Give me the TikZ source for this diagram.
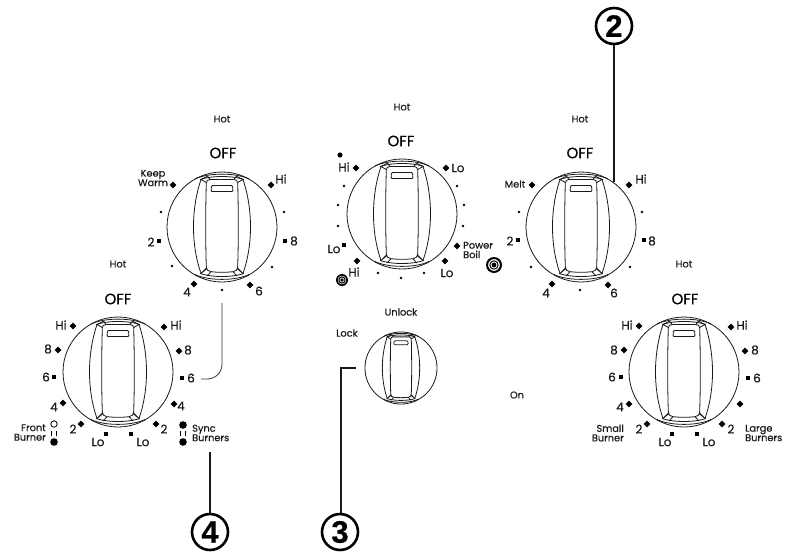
\documentclass[tikz,border=0pt]{standalone}
\usepackage{fontspec}
\setmainfont{Poppins}[RawFeature={embolden=0.35}]
\newfontfamily\numfont{Liberation Sans}[RawFeature={embolden=0.6}]
\newcounter{lb}
\tikzset{
  x=1pt,y=-1pt,
  knobline/.style={line width=0.8pt,black!90},
  lbl/.style={inner sep=0pt,font=\fontsize{12}{13}\selectfont,text=black!90},
  sm/.style={inner sep=0pt,font=\fontsize{9.8}{11}\selectfont,text=black!90,align=center},
  sml/.style={sm,align=left,anchor=west},
  smr/.style={sm,align=right,anchor=east},
  offlbl/.style={inner sep=0pt,font=\fontsize{15}{16}\selectfont,text=black},
  callout/.style={circle,draw=black,line width=2.6pt,minimum size=36pt,inner sep=0pt,font=\numfont\bfseries\fontsize{31}{32}\selectfont},
  lead/.style={line width=2.5pt,black!90},
  thinlead/.style={line width=0.8pt,black!80},
}
\newcommand{\Lb}[3]{\stepcounter{lb}\node[lbl] (lb\thelb) at (#1,#2) {#3};}
\newcommand{\Sm}[3]{\stepcounter{lb}\node[sm] (lb\thelb) at (#1,#2) {#3};}
\newcommand{\Off}[2]{\stepcounter{lb}\node[offlbl] (lb\thelb) at (#1,#2) {OFF};}
\newcommand{\dmd}[2]{\fill[black] (#1-3.3,#2) -- (#1,#2-3.3) -- (#1+3.3,#2) -- (#1,#2+3.3) -- cycle;}
\newcommand{\sqr}[2]{\fill[black] (#1-2.4,#2-2.4) rectangle (#1+2.4,#2+2.4);}
\newcommand{\dtt}[2]{\fill[black] (#1,#2) circle (1.3);}
\newcommand{\knob}[4]{%
 \node[circle,draw,knobline,minimum size=#4*110pt,inner sep=0pt] (#1) at (#2,#3) {};
 \begin{scope}[shift={(#2,#3)},scale=#4,knobline]
  % bands
  \draw (-27,-48) .. controls (-14,-54.5) and (14,-54.5) .. (27,-48);
  \draw (-22,-47.5) .. controls (-10,-51.5) and (10,-51.5) .. (22,-47.5);
  \draw (-27,47.5) .. controls (-14,54) and (14,54) .. (27,47.5);
  \draw (-22,46.5) .. controls (-10,50.5) and (10,50.5) .. (22,46.5);
  % outer sides
  \draw (-21,-47.5) .. controls (-31,-18) and (-31,18) .. (-21,46.5);
  \draw (21,-47.5) .. controls (31,-18) and (31,18) .. (21,46.5);
  % grip
  \draw (-12,-47.5) -- (12,-47.5) .. controls (14.5,-47.5) and (15.5,-46) .. (15.7,-44)
        .. controls (16.5,-15) and (16.5,15) .. (15.7,39) .. controls (15.5,43) and (14,44.5) .. (11,44.7)
        .. controls (4,45.5) and (-4,45.5) .. (-11,44.7) .. controls (-14,44.5) and (-15.5,43) .. (-15.7,39)
        .. controls (-16.5,15) and (-16.5,-15) .. (-15.7,-44) .. controls (-15.5,-46) and (-14.5,-47.5) .. (-12,-47.5);
  % facets
  \draw (-21,-47.5) -- (-15.7,-44.5) (-12,-47.5) -- (-14.5,-51) (-21,-47.5) -- (-15,-50.5);
  \draw (21,-47.5) -- (15.7,-44.5) (12,-47.5) -- (14.5,-51) (21,-47.5) -- (15,-50.5);
  \draw (-21,46.5) -- (-15.7,41) (-11,44.7) -- (-15,49) (-21,46.5) -- (-15,41.5);
  \draw (21,46.5) -- (15.7,41) (11,44.7) -- (15,49) (21,46.5) -- (15,41.5);
  % handle
  \draw[rounded corners=1pt] (-10.5,-41.5) -- (10.5,-41.5) -- (11,-35.5) -- (-11,-35.5) -- cycle;
 \end{scope}}
\newcommand{\target}[3]{%
 \fill[black,even odd rule] (#1,#2) circle (#3) (#1,#2) circle (#3*0.74);
 \draw[black,line width=1pt] (#1,#2) circle (#3*0.52);
 \fill[black] (#1,#2) circle (#3*0.3);}
\begin{document}
\begin{tikzpicture}
\useasboundingbox[fill=white] (0,0) rectangle (796,552);
% --- knob 1
\knob{kA}{222}{227}{1}
\Sm{222}{119}{Hot}\Off{223}{153}
\node[sm] (keep) at (153,178) {Keep\\[-1.5pt]Warm};
\dmd{173}{185}\dmd{271}{185}\Lb{281}{179}{Hi}
\dtt{161}{212}\dtt{284}{212}
\sqr{159}{241}\Lb{151}{242}{2}\sqr{285}{241}\Lb{294}{241}{8}
\dtt{172}{266}\dtt{272}{267}
\dmd{194}{284}\Lb{187}{292}{4}\dtt{222}{290}\dmd{250}{285}\Lb{259}{291}{6}
% --- knob 2
\knob{kB}{118}{372}{1}
\Sm{118}{264}{Hot}\Off{118}{299}
\Lb{61}{325}{Hi}\dmd{73}{326}\dmd{164}{327}\Lb{176}{325}{Hi}
\Lb{48}{349}{8}\dmd{58}{350}\dmd{179}{351}\Lb{188}{350}{8}
\Lb{46}{377}{6}\sqr{54}{377}\sqr{182}{378}\Lb{191}{378}{6}
\Lb{54}{407}{4}\dmd{63}{403}\dmd{174}{404}\Lb{181}{406}{4}
\Lb{73}{429}{2}\dmd{81}{424}\dmd{156}{424}\Lb{164}{429}{2}
\Lb{98}{442}{Lo}\sqr{106}{434}\sqr{131}{434}\Lb{143}{442}{Lo}
\node[smr] (front) at (46,432.5) {Front\\[-1.5pt]Burner};
\draw[black,line width=0.8pt] (54,424) circle (3.2);
\fill[black] (54,442) circle (3.8);
\draw[black,line width=1pt] (51.5,431)--(51.5,436) (56.5,431)--(56.5,436);
\fill[black] (183,425) circle (3.8);
\fill[black] (183,442) circle (3.8);
\draw[black,line width=1pt] (180.5,431)--(180.5,436) (185.5,431)--(185.5,436);
\node[sml] (sync) at (192,433) {Sync\\[-1.5pt]Burners};
% --- knob 3
\knob{kC}{402}{214}{1}
\Sm{402}{107}{Hot}\Off{401}{141}
\fill[black] (340,155) circle (2.6);
\Lb{344}{167}{Hi}\dmd{356}{168}\dmd{446}{168}\Lb{458}{168}{Lo}
\dtt{344}{186}\dtt{338}{205}\dtt{338}{226}\dtt{457}{186}\dtt{464}{205}\dtt{463}{226}
\Lb{334}{249}{Lo}\sqr{344}{245}
\dmd{457}{246}
\node[sml] (power) at (463,250) {Power\\[-1.5pt]Boil};
\target{494}{265}{8}
\dmd{357}{261}\Lb{354}{272}{Hi}\target{342}{280}{6}
\dtt{378}{273}\dtt{401}{278}\dtt{424}{273}
\dmd{445}{261}\Lb{447}{273}{Lo}
% --- lock knob
\knob{kD}{401}{368}{0.655}
\Sm{401}{312}{Unlock}\Sm{347}{333}{Lock}
% --- knob 4
\knob{kE}{581}{227}{1}
\Sm{580}{119}{Hot}\Off{580}{153}
\Sm{515}{184}{Melt}\dmd{532}{185}\dmd{629}{185}\Lb{641}{179}{Hi}
\dtt{519}{212}\dtt{642}{212}
\Lb{510}{241}{2}\sqr{518}{240}\sqr{644}{240}\Lb{652}{241}{8}
\dtt{531}{267}\dtt{630}{267}
\dmd{552}{284}\Lb{546}{293}{4}\dtt{580}{290}\dmd{608}{285}\Lb{614}{293}{6}
% --- knob 5
\knob{kF}{684}{372}{1}
\Sm{684}{264}{Hot}\Off{685}{299}
\Lb{627}{325}{Hi}\dmd{639}{326}\dmd{731}{327}\Lb{742}{325}{Hi}
\Lb{614}{350}{8}\dmd{624}{350}\dmd{745}{351}\Lb{755}{350}{8}
\Lb{612}{377}{6}\sqr{621}{377}\sqr{748}{378}\Lb{757}{378}{6}
\Lb{620}{407}{4}\dmd{629}{404}\dmd{740}{404}
\Lb{639}{429}{2}\dmd{647}{424}\dmd{722}{424}\Lb{731}{429}{2}
\Lb{665}{442}{Lo}\sqr{672}{434}\sqr{697}{434}\Lb{709}{442}{Lo}
\node[smr] (small) at (624,433) {Small\\[-1.5pt]Burner};
\node[sml] (large) at (745,433) {Large\\[-1.5pt]Burners};
\Sm{517}{395}{On}
% --- callouts
\node[callout] (c2) at (614,26) {2};
\node[callout] (c3) at (340,532) {3};
\node[callout] (c4) at (210,532) {4};
\coordinate (e2) at (614,182);
\coordinate (e3a) at (341,368);
\coordinate (e3b) at (356,368);
\coordinate (e4) at (210,452);
\coordinate (e6a) at (222,303);
\coordinate (e6b) at (201,379);
\draw[lead] (c2) -- (e2);
\draw[lead] (c4) -- (e4);
\draw[lead] (c3.north -| e3a) -- (e3a) -- (e3b);
\draw[thinlead] (e6a) -- (222,364) .. controls (222,374) and (214,379) .. (207,379) -- (e6b);
\end{tikzpicture}
\end{document}
